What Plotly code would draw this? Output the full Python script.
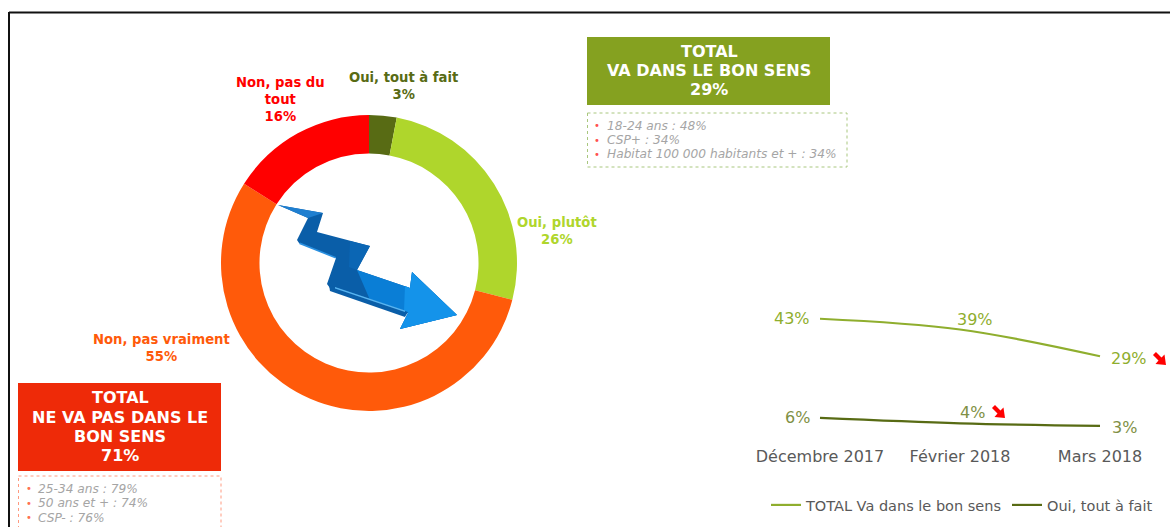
import plotly.graph_objects as go

W, H = 1170, 527

# ---- data ----
pie_labels = ["Oui, tout à fait", "Oui, plutôt", "Non, pas vraiment", "Non, pas du tout"]
pie_values = [3, 26, 55, 16]
pie_colors = ["#586b14", "#afd62c", "#ff5a0a", "#ff0000"]

months = ["Décembre 2017", "Février 2018", "Mars 2018"]
total_name = "TOTAL Va dans le bon sens"
total_values = [43, 39, 29]
oui_name = "Oui, tout à fait"
oui_values = [6, 4, 3]

green_title = ["TOTAL", "VA DANS LE BON SENS", "29%"]
green_items = ["18-24 ans : 48%", "CSP+ : 34%", "Habitat 100 000 habitants et + : 34%"]
red_title = ["TOTAL", "NE VA PAS DANS LE", "BON SENS", "71%"]
red_items = ["25-34 ans : 79%", "50 ans et + : 74%", "CSP- : 76%"]


def px(x):
    return x / W


def py(y):
    return 1 - y / H


FONT = "DejaVu Sans"
shapes, annots = [], []


def rect(x0, y0, x1, y1, fill=None, line=None, dash="solid", width=1):
    shapes.append(dict(type="rect", xref="paper", yref="paper", x0=px(x0), x1=px(x1), y0=py(y0), y1=py(y1),
                       fillcolor=fill or "rgba(0,0,0,0)",
                       line=dict(color=line or "rgba(0,0,0,0)", dash=dash, width=width), layer="below"))


def poly(points, fill):
    d = "M " + " L ".join(f"{px(x):.5f} {py(y):.5f}" for x, y in points) + " Z"
    shapes.append(dict(type="path", xref="paper", yref="paper", path=d, fillcolor=fill, line=dict(width=0)))


def text(x, y, s, color, size, bold=False, anchor="center", italic=False):
    if bold:
        s = f"<b>{s}</b>"
    if italic:
        s = f"<i>{s}</i>"
    annots.append(dict(xref="paper", yref="paper", x=px(x), y=py(y), text=s, showarrow=False,
                       xanchor=anchor, yanchor="middle", align=anchor if anchor != "center" else "center",
                       font=dict(family=FONT, size=size, color=color)))


# frame
shapes.append(dict(type="line", xref="paper", yref="paper", x0=px(9), x1=1, y0=py(12.5), y1=py(12.5),
                   line=dict(color="#111111", width=2)))
shapes.append(dict(type="line", xref="paper", yref="paper", x0=px(9), x1=px(9), y0=py(12), y1=0,
                   line=dict(color="#111111", width=2)))

# green block
rect(587, 37, 830, 105, fill="#85a120")
for y, s in zip([51, 70, 89], green_title):
    text(709, y, s, "white", 16, bold=True)
rect(587.5, 113, 847, 167, line="#a9c77e", dash="dot")
for y, s in zip([126, 140, 154], green_items):
    text(597, y, "•", "#ff5050", 10)
    text(605, y, s, "#a5a5a5", 12.2, italic=True, anchor="left")

# red block
rect(18, 383, 221, 471, fill="#ee2a08")
for y, s in zip([397.5, 417, 436, 455], red_title):
    text(120, y, s, "white", 16, bold=True)
rect(18.5, 476, 221, 540, line="#ff9a80", dash="dot")
for y, s in zip([488.5, 503, 517.5], red_items):
    text(29, y, "•", "#ff7050", 10)
    text(36, y, s, "#a5a5a5", 12.2, italic=True, anchor="left")

# pie labels
text(280, 100, "Non, pas du<br>tout<br>16%", pie_colors[3], 13.2, bold=True)
text(403, 86, "Oui, tout à fait<br>3%", pie_colors[0], 13.2, bold=True)
text(557, 231, "Oui, plutôt<br>26%", pie_colors[1], 13.2, bold=True)
text(161, 348, "Non, pas vraiment<br>55%", pie_colors[2], 13.2, bold=True)

# decorative lightning arrow in the middle of the ring
poly([(278, 205), (323, 213), (317, 232), (370, 246), (357, 270), (410, 288), (412, 272), (457, 315),
      (400, 329), (408, 313), (330, 288), (327, 284), (336, 258), (299, 243), (297, 240), (308, 218)], "#0a5ea8")
poly([(278, 205), (323, 213), (308, 218)], "#1f7fd0")
poly([(350, 241), (370, 246), (357, 270), (349, 267)], "#0b66b4")
poly([(357, 270), (410, 288), (412, 272), (457, 315), (400, 329), (408, 313), (370, 300)], "#0a7ed6")
poly([(405, 286), (410, 288), (412, 272), (457, 315), (400, 329), (408, 313), (404, 311)], "#1493ea")
poly([(300, 242.5), (336, 257), (335.5, 258.5), (299, 244)], "#2a90e0")
poly([(329, 285), (408, 312), (405, 317), (330, 291)], "#0a5ea8")
poly([(335, 287), (405, 310.5), (405, 312), (335, 288.5)], "#58b4f0")


def small_arrow(x, y):
    pts = [(0, 3), (3, 0), (8.5, 5.5), (11.5, 2.5), (13, 13), (2.5, 12), (5.5, 8.5)]
    poly([(x + a, y + b) for a, b in pts], "#ff0000")


small_arrow(1153, 352)
small_arrow(992, 405)

fig = go.Figure()
fig.add_trace(go.Pie(labels=pie_labels, values=pie_values, marker=dict(colors=pie_colors, line=dict(width=0)),
                     hole=0.74, sort=False, direction="clockwise", rotation=0, textinfo="none",
                     showlegend=False, domain=dict(x=[px(221), px(517)], y=[py(411), py(115)])))

fig.add_trace(go.Scatter(x=months, y=total_values, name=total_name, mode="lines",
                         line=dict(color="#8fae2e", width=2.2, shape="spline")))
fig.add_trace(go.Scatter(x=months, y=oui_values, name=oui_name, mode="lines",
                         line=dict(color="#586b14", width=2.2, shape="spline")))


def value_labels(values, color, shifts):
    for m, v, (dx, dy) in zip(months, values, shifts):
        annots.append(dict(xref="x", yref="y", x=m, y=v, text=f"{v}%", showarrow=False,
                           xshift=dx, yshift=dy, font=dict(family=FONT, size=16, color=color)))


value_labels(total_values, "#8fae2e", [(-28, 0), (15, 10), (29, -2)])
value_labels(oui_values, "#7f9045", [(-23, 0), (12, 11), (24, -2)])

fig.update_layout(
    width=W, height=H, margin=dict(l=0, r=0, t=0, b=0),
    paper_bgcolor="white", plot_bgcolor="white",
    shapes=shapes, annotations=annots,
    xaxis=dict(domain=[px(750), 1], type="category", range=[-0.5, 2.5], showgrid=False, zeroline=False,
               showline=False, ticks="outside", ticklen=8, tickcolor="rgba(0,0,0,0)",
               tickfont=dict(family=FONT, size=16, color="#595959")),
    yaxis=dict(domain=[py(434), py(300)], range=[0, 50], visible=False),
    legend=dict(orientation="h", x=px(766), xanchor="left", y=py(505), yanchor="middle",
                font=dict(family=FONT, size=14.5, color="#595959"), itemwidth=30, bgcolor="rgba(0,0,0,0)"),
)

fig.write_html("out.html", post_script="document.body.style.margin='0';",
               config=dict(displayModeBar=False))
